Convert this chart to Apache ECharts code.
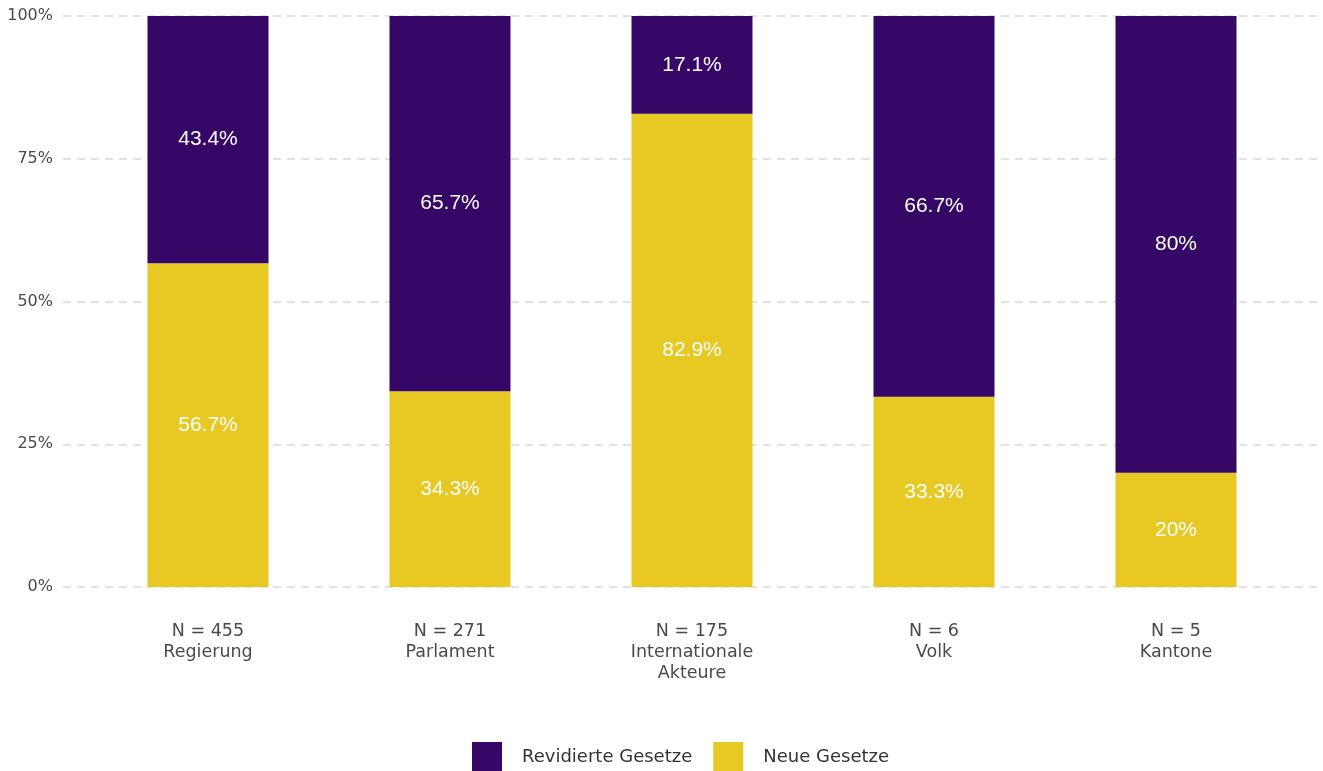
<!DOCTYPE html>
<html><head><meta charset="utf-8">
<script src="https://cdn.jsdelivr.net/npm/echarts@6/dist/echarts.min.js"></script>
<style>html,body{margin:0;padding:0;background:#fff}#c{width:1323px;height:771px}</style>
</head><body><div id="c"></div>
<script>
const categories = ['N = 455\nRegierung', 'N = 271\nParlament', 'N = 175\nInternationale\nAkteure', 'N = 6\nVolk', 'N = 5\nKantone'];
const neueGesetze = [56.7, 34.3, 82.9, 33.3, 20];
const revidierteGesetze = [43.4, 65.7, 17.1, 66.7, 80];
const yTicks = [0, 25, 50, 75, 100];

const FONT = '"DejaVu Sans", "Open Sans", sans-serif';
const LFONT = '"Liberation Sans", Arial, sans-serif';
const chart = echarts.init(document.getElementById('c'));
const gridTop = 16, gridBottom = 771 - 587;
chart.setOption({
  animation: false,
  grid: [
    {left: 63, right: 2, top: gridTop, bottom: gridBottom, containLabel: false},
    {left: 87, right: 26, top: gridTop, bottom: gridBottom, containLabel: false}
  ],
  xAxis: [
    {gridIndex: 0, type: 'value', min: 0, max: 1, show: false},
    {gridIndex: 1, type: 'category', data: categories,
     axisLine: {show: false}, axisTick: {show: false},
     axisLabel: {color: '#4a4a4a', fontSize: 17.5, fontFamily: FONT, lineHeight: 21, margin: 34}}
  ],
  yAxis: [
    {gridIndex: 0, type: 'value', min: 0, max: 100, interval: 25,
     axisLine: {show: false}, axisTick: {show: false},
     axisLabel: {formatter: v => yTicks.includes(v) ? v + '%' : '', color: '#4a4a4a', fontSize: 16, fontFamily: FONT, margin: 10},
     splitLine: {lineStyle: {color: '#d9d9d9', width: 1.5, type: [8, 6]}}},
    {gridIndex: 1, type: 'value', min: 0, max: 100, show: false}
  ],
  legend: {
    top: 742, left: 472, padding: 0, itemWidth: 30, itemHeight: 30, itemGap: 21,
    icon: 'rect',
    data: ['Revidierte Gesetze', 'Neue Gesetze'],
    textStyle: {color: '#333', fontSize: 18, fontFamily: FONT, padding: [0, 0, 0, 15]}
  },
  series: [
    {name: 'Neue Gesetze', type: 'bar', stack: 'a', xAxisIndex: 1, yAxisIndex: 1,
     data: neueGesetze, barWidth: 121, itemStyle: {color: '#e8c823'},
     label: {show: true, position: 'inside', color: '#fff', fontSize: 21, fontFamily: LFONT, formatter: p => p.value + '%'}},
    {name: 'Revidierte Gesetze', type: 'bar', stack: 'a', xAxisIndex: 1, yAxisIndex: 1,
     data: revidierteGesetze, barWidth: 121, itemStyle: {color: '#350766'},
     label: {show: true, position: 'inside', color: '#fff', fontSize: 21, fontFamily: LFONT, formatter: p => p.value + '%'}}
  ]
});
</script></body></html>
